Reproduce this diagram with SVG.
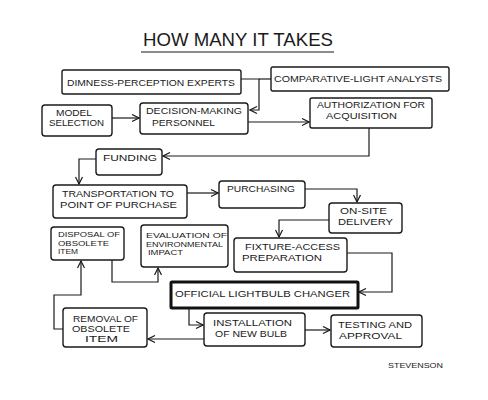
<svg xmlns="http://www.w3.org/2000/svg" width="488" height="400" viewBox="0 0 488 400">
<style>
.bx{fill:#fff;stroke:#1a1a1a;stroke-width:1.4}
.thick{fill:#fff;stroke:#111;stroke-width:3}
.t{font-family:"Liberation Sans",Arial,sans-serif;font-size:9.5px;fill:#1a1a1a}
.s{font-size:7.3px}
.c{fill:none;stroke:#1a1a1a;stroke-width:1.2}
.a{marker-end:url(#arr)}
</style>
<defs>
<marker id="arr" markerUnits="userSpaceOnUse" markerWidth="9" markerHeight="9" viewBox="0 0 9 9" refX="8" refY="4.5" orient="auto">
<path d="M1,1 L8,4.5 L1,8" fill="none" stroke="#1a1a1a" stroke-width="1.2"/>
</marker>
</defs>
<rect width="488" height="400" fill="#fff"/>
<g id="title">
<text x="143" y="46" class="t" style="font-size:18px" textLength="190" lengthAdjust="spacingAndGlyphs">HOW MANY IT TAKES</text>
<path d="M141,52 L334,52" class="c"/>
</g>
<g id="connectors">
<path class="c" d="M271,79 H259"/>
<path class="c a" d="M241,79 H259 V110 H250"/>
<path class="c a" d="M112,118 H139"/>
<path class="c a" d="M248,122 H309"/>
<path class="c a" d="M369,128 V156 H163"/>
<path class="c a" d="M96,159 H79 V184"/>
<path class="c a" d="M187,193 H218"/>
<path class="c a" d="M305,189 H357 V202"/>
<path class="c a" d="M329,220 H279 V237"/>
<path class="c a" d="M347,253 H392 V292 H359"/>
<path class="c a" d="M189,308 V325 H203"/>
<path class="c a" d="M305,330 H330"/>
<path class="c a" d="M204,339 H148"/>
<path class="c a" d="M63,329 H54 V295 H81 V261"/>
<path class="c a" d="M112,260 V282 H158 V268"/>
</g>
<g id="dimness">
<rect class="bx" x="62" y="70" width="179" height="24" rx="2"/>
<text class="t" x="67" y="86" textLength="168" lengthAdjust="spacingAndGlyphs">DIMNESS-PERCEPTION EXPERTS</text>
</g>
<g id="comparative">
<rect class="bx" x="271" y="67" width="178" height="24" rx="2"/>
<text class="t" x="274" y="82" textLength="168" lengthAdjust="spacingAndGlyphs">COMPARATIVE-LIGHT ANALYSTS</text>
</g>
<g id="model">
<rect class="bx" x="42" y="105" width="70" height="31" rx="3"/>
<text class="t" x="56" y="116" textLength="36" lengthAdjust="spacingAndGlyphs">MODEL</text>
<text class="t" x="49" y="126" textLength="55" lengthAdjust="spacingAndGlyphs">SELECTION</text>
</g>
<g id="decision">
<rect class="bx" x="140" y="103" width="108" height="31" rx="3"/>
<text class="t" x="146" y="114" textLength="96" lengthAdjust="spacingAndGlyphs">DECISION-MAKING</text>
<text class="t" x="152" y="126" textLength="63" lengthAdjust="spacingAndGlyphs">PERSONNEL</text>
</g>
<g id="authorization">
<rect class="bx" x="310" y="98" width="122" height="30" rx="2"/>
<text class="t" x="317" y="108" textLength="108" lengthAdjust="spacingAndGlyphs">AUTHORIZATION FOR</text>
<text class="t" x="326" y="119" textLength="71" lengthAdjust="spacingAndGlyphs">ACQUISITION</text>
</g>
<g id="funding">
<rect class="bx" x="96" y="149" width="66" height="26" rx="3"/>
<text class="t" x="103" y="161" textLength="54" lengthAdjust="spacingAndGlyphs">FUNDING</text>
</g>
<g id="transportation">
<rect class="bx" x="53" y="185" width="134" height="33" rx="3"/>
<text class="t" x="62" y="197" textLength="112" lengthAdjust="spacingAndGlyphs">TRANSPORTATION TO</text>
<text class="t" x="60" y="208" textLength="117" lengthAdjust="spacingAndGlyphs">POINT OF PURCHASE</text>
</g>
<g id="purchasing">
<rect class="bx" x="219" y="181" width="86" height="27" rx="3"/>
<text class="t" x="227" y="192" textLength="68" lengthAdjust="spacingAndGlyphs">PURCHASING</text>
</g>
<g id="onsite">
<rect class="bx" x="329" y="203" width="73" height="30" rx="3"/>
<text class="t" x="340" y="214" textLength="47" lengthAdjust="spacingAndGlyphs">ON-SITE</text>
<text class="t" x="338" y="225" textLength="55" lengthAdjust="spacingAndGlyphs">DELIVERY</text>
</g>
<g id="disposal">
<rect class="bx" x="51" y="227" width="73" height="33" rx="3"/>
<text class="t s" x="58" y="237" textLength="62" lengthAdjust="spacingAndGlyphs">DISPOSAL OF</text>
<text class="t s" x="58" y="245.5" textLength="51" lengthAdjust="spacingAndGlyphs">OBSOLETE</text>
<text class="t s" x="58" y="254" textLength="20" lengthAdjust="spacingAndGlyphs">ITEM</text>
</g>
<g id="evaluation">
<rect class="bx" x="141" y="225" width="87" height="42" rx="3"/>
<text class="t s" x="146" y="238" textLength="81" lengthAdjust="spacingAndGlyphs">EVALUATION OF</text>
<text class="t s" x="146" y="246.5" textLength="77" lengthAdjust="spacingAndGlyphs">ENVIRONMENTAL</text>
<text class="t s" x="148" y="255" textLength="35" lengthAdjust="spacingAndGlyphs">IMPACT</text>
</g>
<g id="fixture">
<rect class="bx" x="234" y="238" width="113" height="34" rx="3"/>
<text class="t" x="245" y="250" textLength="95" lengthAdjust="spacingAndGlyphs">FIXTURE-ACCESS</text>
<text class="t" x="242" y="261" textLength="80" lengthAdjust="spacingAndGlyphs">PREPARATION</text>
</g>
<g id="official">
<rect class="thick" x="171" y="282" width="187" height="26" rx="1"/>
<text class="t" x="175" y="297" textLength="175" lengthAdjust="spacingAndGlyphs">OFFICIAL LIGHTBULB CHANGER</text>
</g>
<g id="removal">
<rect class="bx" x="63" y="308" width="84" height="39" rx="3"/>
<text class="t" x="73" y="322" style="font-size:8.5px" textLength="65" lengthAdjust="spacingAndGlyphs">REMOVAL OF</text>
<text class="t" x="72" y="332" style="font-size:8.5px" textLength="58" lengthAdjust="spacingAndGlyphs">OBSOLETE</text>
<text class="t" x="85" y="342" style="font-size:8.5px" textLength="33" lengthAdjust="spacingAndGlyphs">ITEM</text>
</g>
<g id="installation">
<rect class="bx" x="204" y="313" width="101" height="33" rx="3"/>
<text class="t" x="213" y="326" textLength="79" lengthAdjust="spacingAndGlyphs">INSTALLATION</text>
<text class="t" x="215" y="337" textLength="72" lengthAdjust="spacingAndGlyphs">OF NEW BULB</text>
</g>
<g id="testing">
<rect class="bx" x="331" y="315" width="91" height="32" rx="3"/>
<text class="t" x="338" y="328" textLength="74" lengthAdjust="spacingAndGlyphs">TESTING AND</text>
<text class="t" x="339" y="339" textLength="63" lengthAdjust="spacingAndGlyphs">APPROVAL</text>
</g>
<g id="signature">
<text class="t" x="388" y="368" style="font-size:7.5px" textLength="55" lengthAdjust="spacingAndGlyphs">STEVENSON</text>
</g>
</svg>
